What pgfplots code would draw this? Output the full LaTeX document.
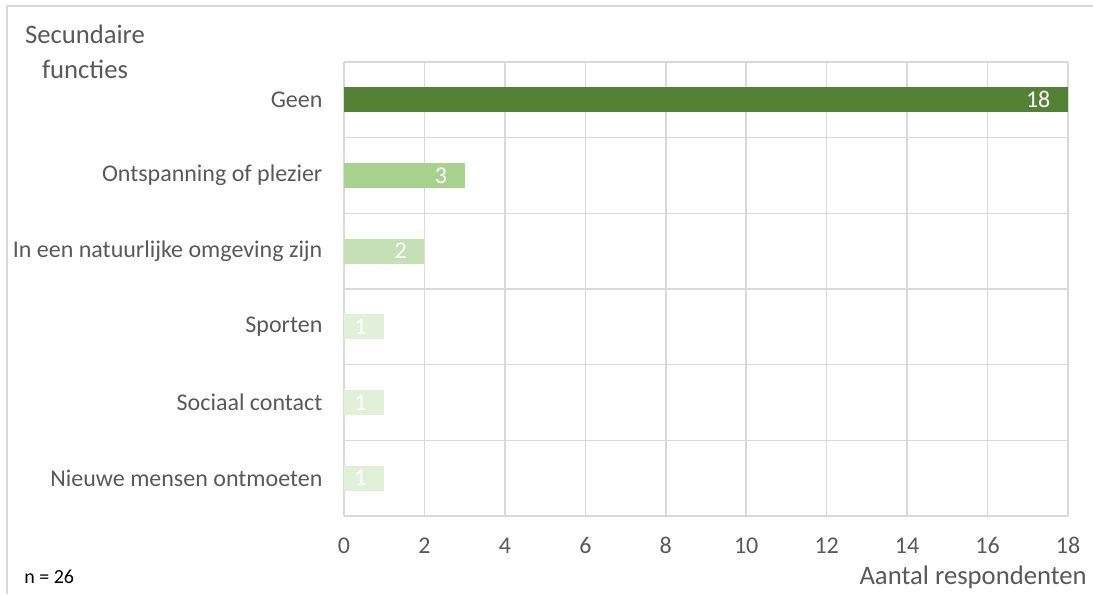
\documentclass[border=0pt]{standalone}
\usepackage{pgfplots}
\pgfplotsset{compat=1.18}
\usepackage{fontspec}
\setmainfont{Carlito}
\definecolor{txt}{HTML}{595959}
\definecolor{gridc}{HTML}{D9D9D9}
\definecolor{c1}{HTML}{548235}
\definecolor{c2}{HTML}{A9D18E}
\definecolor{c3}{HTML}{C5E0B4}
\definecolor{c4}{HTML}{E2F0D9}
\begin{document}
\begin{tikzpicture}
\path[use as bounding box] (0pt,0pt) rectangle (819.75pt,445.5pt);
\draw[gridc,line width=1.5pt] (5.25pt,0pt) -- (5.25pt,441pt) -- (819.75pt,441pt);
\begin{axis}[
  at={(258pt,58.5pt)}, anchor=south west,
  scale only axis, width=543pt, height=340.5pt,
  xmin=0, xmax=18, xtick={0,2,...,18},
  ymin=-0.5, ymax=5.5, y dir=reverse,
  ytick={0,...,5},
  yticklabels={Geen,Ontspanning of plezier,In een natuurlijke omgeving zijn,Sporten,Sociaal contact,Nieuwe mensen ontmoeten},
  minor ytick={-0.5,0.5,...,5.5},
  xmajorgrids, yminorgrids,
  major grid style={gridc,line width=1.1pt},
  minor grid style={gridc,line width=1.1pt},
  axis line style={draw=none},
  major tick length=0pt, minor tick length=0pt,
  tick label style={font=\fontsize{18}{20}\selectfont, text=txt},
  yticklabel style={inner sep=0pt, anchor=east, xshift=-16pt},
  xticklabel style={inner sep=0pt, anchor=base, yshift=-28pt},
  /pgf/number format/assume math mode=true,
  xbar, bar width=0.33, bar shift=0pt,
  nodes near coords,
  nodes near coords style={font=\fontsize{18}{20}\selectfont, text=white, anchor=east, inner sep=0pt, xshift=-13pt},
  clip=false,
]
\addplot[fill=c1, draw=none] coordinates {(18,0)};
\addplot[fill=c2, draw=none] coordinates {(3,1)};
\addplot[fill=c3, draw=none] coordinates {(2,2)};
\addplot[fill=c4, draw=none] coordinates {(1,3)};
\addplot[fill=c4, draw=none] coordinates {(1,4)};
\addplot[fill=c4, draw=none] coordinates {(1,5)};
\end{axis}
\node[align=center, text=txt, font=\fontsize{20}{26}\selectfont, inner sep=0pt] at (63.75pt,406.5pt) {Secundaire\\functies};
\node[anchor=base east, text=txt, font=\fontsize{20}{24}\selectfont, inner sep=0pt] at (815.25pt,7.5pt) {Aantal respondenten};
\node[anchor=base west, font=\fontsize{15}{18}\selectfont, inner sep=0pt] at (18pt,8.25pt) {n = 26};
\end{tikzpicture}
\end{document}
